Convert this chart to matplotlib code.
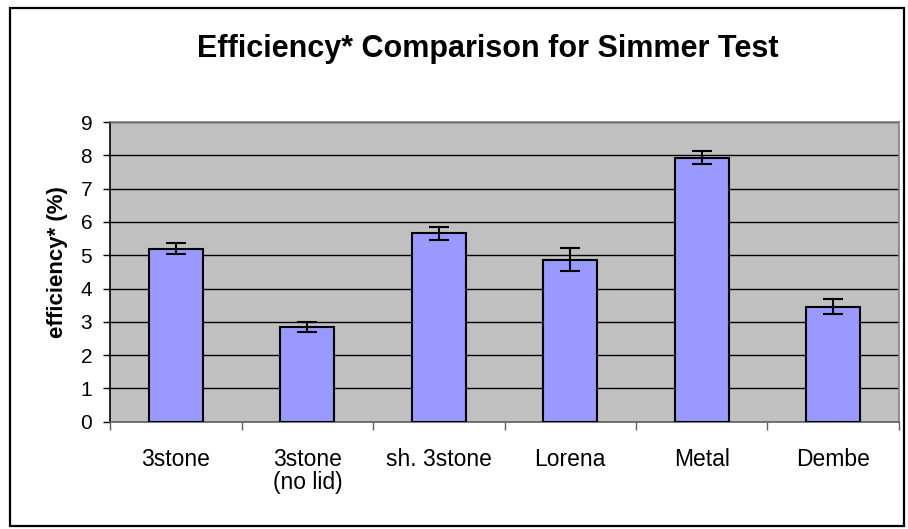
import matplotlib
matplotlib.use("Agg")
import matplotlib.pyplot as plt
from matplotlib.patches import Rectangle
import numpy as np

categories = ["3stone", "3stone\n(no lid)", "sh. 3stone", "Lorena", "Metal", "Dembe"]
values = [5.2, 2.83, 5.66, 4.87, 7.93, 3.45]
errors = [0.17, 0.15, 0.2, 0.34, 0.2, 0.23]
yticks = list(range(0, 10))

plt.rcParams['font.family'] = ['Liberation Sans', 'DejaVu Sans']

W, H = 908, 529
fig = plt.figure(figsize=(W/100, H/100), dpi=100)
fig.patches.append(Rectangle((9.5/W, 3/H), (904-9.5)/W, (521.5-3)/H, transform=fig.transFigure,
                             fill=False, edgecolor='black', linewidth=1.6, zorder=10))

ax = fig.add_axes([110.3/W, 1-421.7/H, (898.7-110.3)/W, (421.7-122)/H])
ax.set_facecolor('#C0C0C0')
x = np.arange(len(categories))
ax.bar(x, values, width=0.41, color='#9999FF', edgecolor='black', linewidth=1.5, zorder=3)
ax.errorbar(x, values, yerr=errors, fmt='none', ecolor='black', elinewidth=1.5,
            capsize=7, capthick=1.5, zorder=4)

ax.set_xlim(-0.5, len(categories) - 0.5)
ax.set_ylim(0, 9)
ax.set_yticks(yticks)
ax.set_yticklabels([str(t) for t in yticks], fontsize=15)
ax.yaxis.grid(True, color='black', linewidth=1.0)
ax.set_axisbelow(True)

ax.set_xticks(np.arange(-0.5, len(categories), 1.0))
ax.set_xticklabels([])
ax.set_xticks(x, minor=True)
ax.set_xticklabels(categories, minor=True, fontsize=16.5, linespacing=1.0)
ax.tick_params(axis='x', which='minor', length=0, pad=19)
ax.tick_params(axis='x', which='major', length=6, width=1, color='#606060', direction='out')
ax.tick_params(axis='y', length=5, width=1, direction='out', pad=8)

for s in ['top', 'right']:
    ax.spines[s].set_color('#808080')
    ax.spines[s].set_linewidth(1.2)
ax.spines['bottom'].set_color('#606060')
ax.spines['bottom'].set_linewidth(1.2)
ax.spines['left'].set_color('black')
ax.spines['left'].set_linewidth(1.2)

ax.set_ylabel('efficiency* (%)', fontsize=16, fontweight='bold')
ax.yaxis.set_label_coords((57 - 110.3) / (898.7 - 110.3), (421.7 - 262) / (421.7 - 122))
ax.yaxis.label.set_va('center')

fig.text(488/W, 1-57/H, 'Efficiency* Comparison for Simmer Test', ha='center', va='baseline',
         fontsize=22, fontweight='bold')

fig.savefig('out.png', dpi=100)
